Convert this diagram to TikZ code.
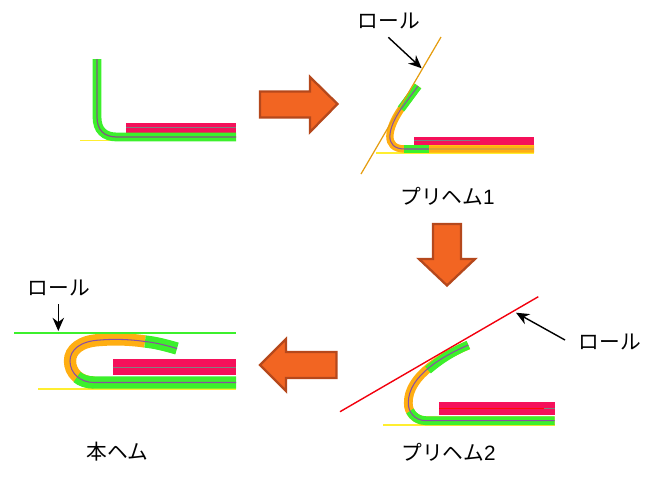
\documentclass[tikz,border=0pt]{standalone}
\usepackage{fontspec}
\usetikzlibrary{arrows.meta}
\setmainfont{Noto Sans CJK JP}
\newfontfamily\latinf{Liberation Sans}
\definecolor{arrfill}{HTML}{F26522}
\definecolor{arredge}{HTML}{B5481C}
\definecolor{barred}{HTML}{F5105A}
\definecolor{bandgreen}{HTML}{3CF02C}
\definecolor{bandorange}{HTML}{FFAE12}
\definecolor{bandyellow}{HTML}{FFE21A}
\definecolor{corepurple}{HTML}{8A4FA0}
\definecolor{lowyellow}{HTML}{FFEE30}
\begin{document}
\begin{tikzpicture}[x=0.02cm,y=-0.02cm,line cap=butt,
  lbl/.style={font=\fontsize{11.8pt}{14pt}\selectfont,inner sep=0pt,text=black},
  blockarrow/.style={draw=arredge,line width=1.3pt,fill=arrfill,line join=miter},
  pointer/.style={draw=black,line width=0.8pt,-{Stealth[length=7.5pt,width=6.5pt]}},
  core/.style={draw=corepurple,line width=0.6pt},
  grn/.style={draw=bandgreen,line width=5pt},
  org/.style={draw=bandorange,line width=5pt},
  redbar/.style={fill=barred},
  rolllo/.style={draw=lowyellow,line width=1pt}]
\useasboundingbox (0,0) rectangle (655,478);
% panel 1
\draw[rolllo] (80,140.5) -- (236,140.5);
\fill[redbar] (126,123) rectangle (236,132.5);
\draw[draw=gray,line width=0.4pt] (126,127.8) -- (236,127.8);
\draw[grn] (97,59) -- (97,117) .. controls (97,130) and (104,137) .. (117,137) -- (236,137);
\draw[draw=gray!70!violet,line width=0.7pt] (97,59) -- (97,117) .. controls (97,130) and (104,137) .. (117,137) -- (236,137);
% panel 2
\draw[rolllo] (376,152.7) -- (534,152.7);
\fill[redbar] (414,136.7) rectangle (534,145);
\draw[draw=gray,line width=0.4pt] (414,140.5) -- (480,140.5);
\draw[draw=bandyellow,line width=4.8pt] (404,149) -- (534,149);
\draw[org,line width=4.2pt] (418,86) -- (401,109) .. controls (388,128) and (383,149) .. (405,149) -- (534,149);
\draw[draw=bandorange!70!gray,line width=1.2pt] (430,149) -- (534,149);
\draw[grn,line width=4.6pt] (418,86) -- (401,109);
\draw[grn,line width=4.6pt] (404,149) -- (429,149);
\draw[core] (418,86) -- (401,109) .. controls (388,128) and (383,149) .. (405,149) -- (429,149);
\draw[draw=bandorange!90!black,line width=0.7pt] (361,174) -- (441,37);
% panel 3
\draw[rolllo] (383,425.3) -- (554.5,425.3);
\fill[redbar] (439,402.3) rectangle (554.5,415);
\draw[draw=red!90!orange,line width=0.4pt] (439,408.8) -- (544,408.8);
\draw[draw=gray,line width=0.4pt] (544,408.8) -- (554.5,408.8);
\draw[org] (468.3,345) .. controls (445,355) and (408,375) .. (408.3,403) .. controls (408,412) and (415,420.7) .. (426,420.7) -- (554.5,420.7);
\draw[grn] (468.3,345) .. controls (455,350.5) and (442,358) .. (428,370);
\draw[grn] (410,411) .. controls (413,417) and (419,420.7) .. (426,420.7) -- (554.5,420.7);
\draw[core] (468.3,345) .. controls (445,355) and (408,375) .. (408.3,403) .. controls (408,412) and (415,420.7) .. (426,420.7) -- (554.5,420.7);
\draw[draw=red!80!purple,line width=0.8pt] (340,411.7) -- (538.3,296.7);
% panel 4
\draw[rolllo] (38.3,389) -- (236,389);
\fill[redbar] (112.7,358.7) rectangle (236,375.3);
\draw[draw=gray,line width=0.4pt] (112.7,367) -- (236,367);
\draw[org,line width=7pt] (145,341.5) .. controls (128,339) and (112,339) .. (100,340) .. controls (80,341) and (70,350) .. (70,361) .. controls (70,373) and (80,382.5) .. (94,382.5);
\draw[grn,line width=7pt] (177,348.5) .. controls (165,345) and (155,342.5) .. (145,341.5);
\draw[grn,line width=7pt] (77,377) .. controls (81,380.5) and (87,382.5) .. (94,382.5) -- (236,382.5);
\draw[core] (177,348.5) .. controls (165,345) and (155,342.5) .. (145,341.5) .. controls (128,339) and (112,339) .. (100,340) .. controls (80,341) and (70,350) .. (70,361) .. controls (70,373) and (80,382.5) .. (94,382.5) -- (236,382.5);
\draw[draw=bandgreen,line width=0.8pt] (14,333) -- (236,333);
% block arrows
\draw[blockarrow] (260,91.5) -- (310,91.5) -- (310,77) -- (337.5,104) -- (310,132) -- (310,117.5) -- (260,117.5) -- cycle;
\draw[blockarrow] (433,224) -- (461,224) -- (461,259) -- (475,259) -- (447,285.5) -- (419,259) -- (433,259) -- cycle;
\draw[blockarrow] (336.5,352) -- (286,352) -- (286,339) -- (260,365) -- (286,391) -- (286,378) -- (336.5,378) -- cycle;
% labels
\node[lbl] (l1) at (389,21) {ロール};
\node[lbl] (l2) at (447.5,196) {プリヘム{\latinf 1}};
\node[lbl] (l3) at (448.5,452) {プリヘム{\latinf 2}};
\node[lbl] (l4) at (117.5,452) {本ヘム};
\node[lbl] (l5) at (610,342) {ロール};
\node[lbl] (l6) at (59,288) {ロール};
% pointers
\coordinate (t1) at (421.7,68.3);
\coordinate (t2) at (516,312.7);
\coordinate (t3) at (58.3,331);
\coordinate (s1) at (388.3,37.3);
\coordinate (s2) at (565,340);
\coordinate (s3) at (58.3,304);
\draw[pointer] (s1) -- (t1);
\draw[pointer] (s2) -- (t2);
\draw[pointer] (s3) -- (t3);
\end{tikzpicture}
\end{document}
